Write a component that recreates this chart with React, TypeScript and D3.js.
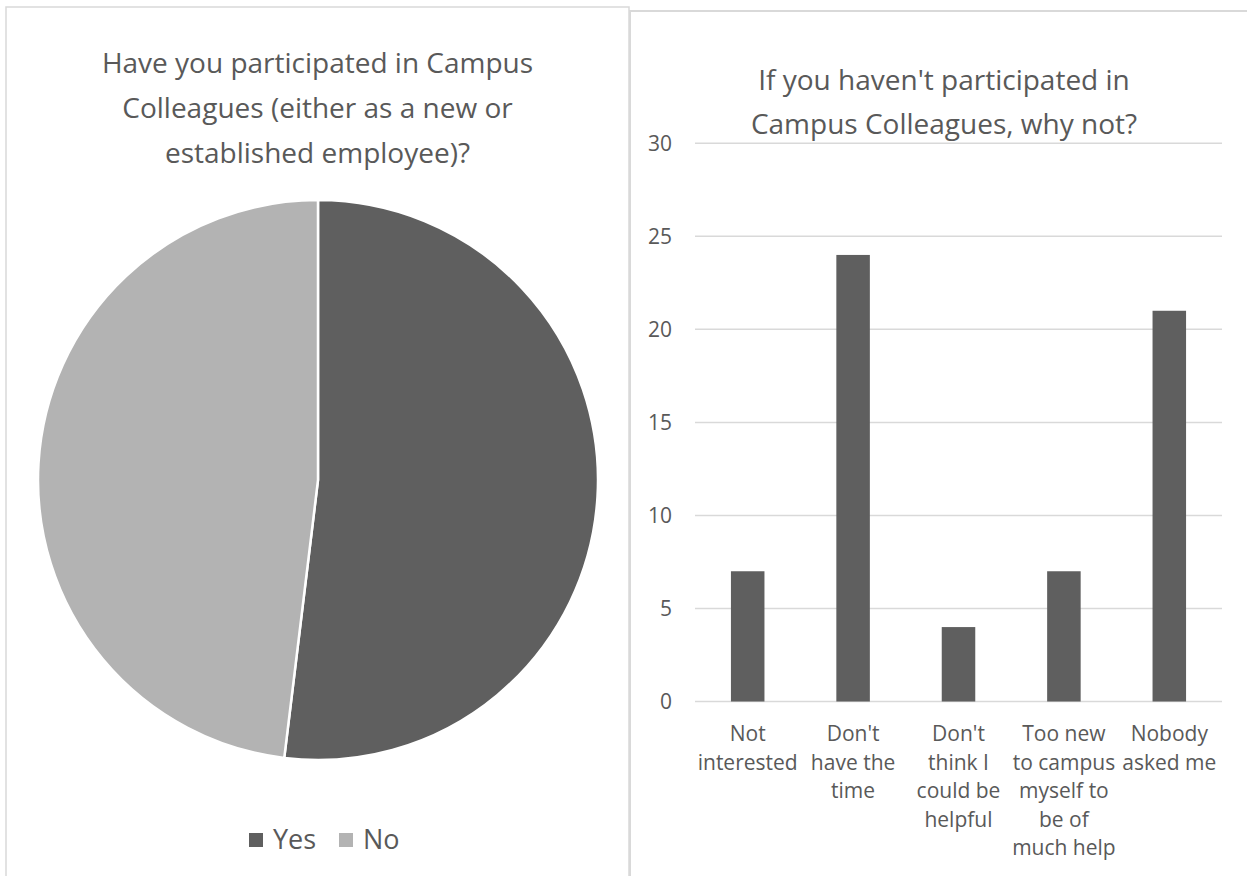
import React from "react";
import * as d3 from "d3";

// Pie: participation in Campus Colleagues
const pieLabels = ["Yes", "No"];
const pieValues = [54, 50];
const pieColors = ["#5f5f5f", "#b3b3b3"];

// Bars: reasons for not participating
const reasons = [
  "Not interested",
  "Don't have the time",
  "Don't think I could be helpful",
  "Too new to campus myself to be of much help",
  "Nobody asked me",
];
const reasonCounts = [7, 24, 4, 7, 21];
const reasonTickLines = [
  ["Not", "interested"],
  ["Don't", "have the", "time"],
  ["Don't", "think I", "could be", "helpful"],
  ["Too new", "to campus", "myself to", "be of", "much help"],
  ["Nobody", "asked me"],
];
const yTicks = [0, 5, 10, 15, 20, 25, 30];

const pieTitle = [
  "Have you participated in Campus",
  "Colleagues (either as a new or",
  "established employee)?",
];
const barTitle = ["If you haven't participated in", "Campus Colleagues, why not?"];

const FONT = "'Open Sans', 'Noto Sans', sans-serif";
const TEXT = "#595959";
const GRID = "#d9d9d9";

export default function App() {
  const W = 1247;
  const H = 876;

  // pie geometry
  const cx = 318;
  const cy = 480;
  const r = 280;
  const pie = d3.pie<number>().sort(null).value((d) => d)(pieValues);
  const arc = d3.arc<d3.PieArcDatum<number>>().innerRadius(0).outerRadius(r);

  // bar geometry
  const x = d3
    .scaleBand<string>()
    .domain(reasons)
    .range([695, 1222])
    .paddingInner(0.682)
    .paddingOuter(0.341);
  const y = d3.scaleLinear().domain([0, 30]).range([701.5, 143.3]);

  return (
    <svg
      width={W}
      height={H}
      style={{ position: "absolute", left: 0, top: 0, background: "#fff" }}
      fontFamily={FONT}
    >
      {/* panel frames */}
      <rect x={6} y={7} width={623} height={H + 20} fill="#fff" stroke={GRID} strokeWidth={1.5} />
      <rect x={630} y={11} width={630} height={H + 20} fill="#fff" stroke={GRID} strokeWidth={2} />

      {/* left panel: pie */}
      <g fill={TEXT} fontSize={28} textAnchor="middle">
        {pieTitle.map((t, i) => (
          <text key={i} x={317.5} y={73 + i * 45}>
            {t}
          </text>
        ))}
      </g>
      <g transform={`translate(${cx},${cy})`}>
        {pie.map((d, i) => (
          <path key={i} d={arc(d) || ""} fill={pieColors[i]} stroke="#fff" strokeWidth={2.5} />
        ))}
      </g>
      <g fontSize={27} fill={TEXT}>
        {pieLabels.map((l, i) => {
          const lx = i === 0 ? 249 : 339;
          return (
            <g key={l}>
              <rect x={lx} y={833} width={14} height={14} fill={pieColors[i]} />
              <text x={lx + 24} y={849}>
                {l}
              </text>
            </g>
          );
        })}
      </g>

      {/* right panel: bars */}
      <g fill={TEXT} fontSize={28} textAnchor="middle">
        {barTitle.map((t, i) => (
          <text key={i} x={944} y={90 + i * 44}>
            {t}
          </text>
        ))}
      </g>
      <g>
        {yTicks.map((t) => (
          <g key={t}>
            <line x1={695} x2={1222} y1={y(t)} y2={y(t)} stroke={GRID} strokeWidth={1.5} />
            <text x={672} y={y(t) + 7.5} textAnchor="end" fontSize={21} fill={TEXT}>
              {t}
            </text>
          </g>
        ))}
      </g>
      <g>
        {reasons.map((c, i) => (
          <rect
            key={c}
            x={x(c)}
            y={y(reasonCounts[i])}
            width={x.bandwidth()}
            height={y(0) - y(reasonCounts[i])}
            fill="#5f5f5f"
          />
        ))}
      </g>
      <g fontSize={21} fill={TEXT} textAnchor="middle">
        {reasons.map((c, i) => (
          <text key={c} x={(x(c) || 0) + x.bandwidth() / 2} y={741}>
            {reasonTickLines[i].map((ln, j) => (
              <tspan key={j} x={(x(c) || 0) + x.bandwidth() / 2} y={741 + j * 28.5}>
                {ln}
              </tspan>
            ))}
          </text>
        ))}
      </g>
    </svg>
  );
}
